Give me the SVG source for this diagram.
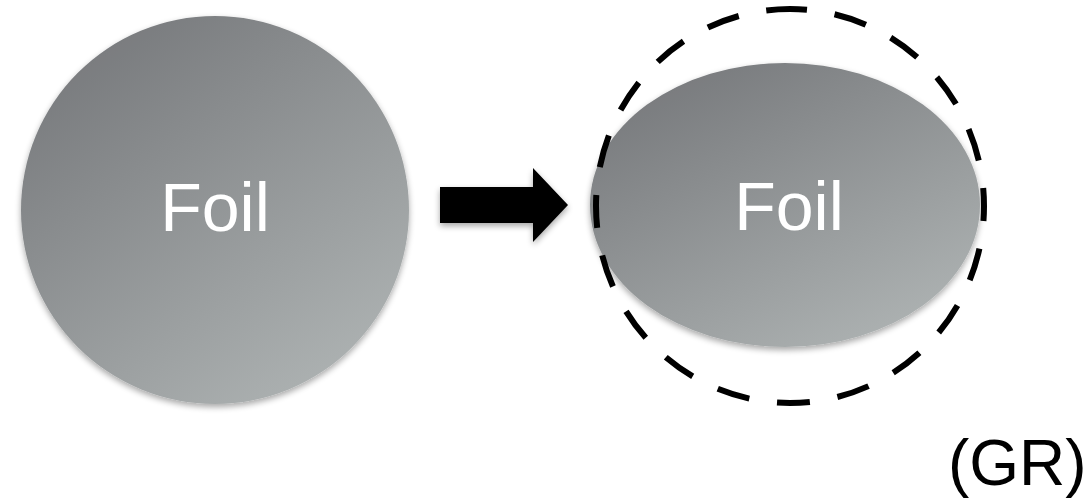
<svg xmlns="http://www.w3.org/2000/svg" width="1087" height="500" viewBox="0 0 1087 500">
<defs>
<linearGradient id="g" x1="0.15" y1="0" x2="0.85" y2="1">
<stop offset="0" stop-color="#75777a"/>
<stop offset="1" stop-color="#b0b5b5"/>
</linearGradient>
<filter id="sh" x="-10%" y="-10%" width="120%" height="120%">
<feGaussianBlur in="SourceAlpha" stdDeviation="3"/>
<feOffset dx="0" dy="3"/>
<feComponentTransfer><feFuncA type="linear" slope="0.35"/></feComponentTransfer>
<feMerge><feMergeNode/><feMergeNode in="SourceGraphic"/></feMerge>
</filter>
</defs>
<style>
.lbl{font-family:"Liberation Sans",Arial,sans-serif;font-size:68px;fill:#ffffff;text-anchor:middle}
.shape{fill:url(#g);filter:url(#sh)}
</style>
<rect width="1087" height="500" fill="#ffffff"/>
<g id="foil-before">
<circle class="shape" cx="215" cy="210" r="194"/>
<text class="lbl" x="215" y="231">Foil</text>
</g>
<g id="foil-after">
<ellipse class="shape" cx="785" cy="205" rx="195" ry="142"/>
<text class="lbl" x="789" y="230">Foil</text>
</g>
<g id="outline">
<ellipse cx="790" cy="206" rx="197" ry="194" fill="none" stroke="#000" stroke-width="6" stroke-dasharray="33 28" stroke-dashoffset="16" transform="rotate(-90 790 206)"/>
</g>
<g id="connectors">
<polygon points="440,187 533,187 533,168 568,205 533,242 533,223 440,223" fill="#000" filter="url(#sh)"/>
</g>
<text x="948" y="485" font-family="Liberation Sans, Arial, sans-serif" font-size="64" fill="#000">(GR)</text>
</svg>
